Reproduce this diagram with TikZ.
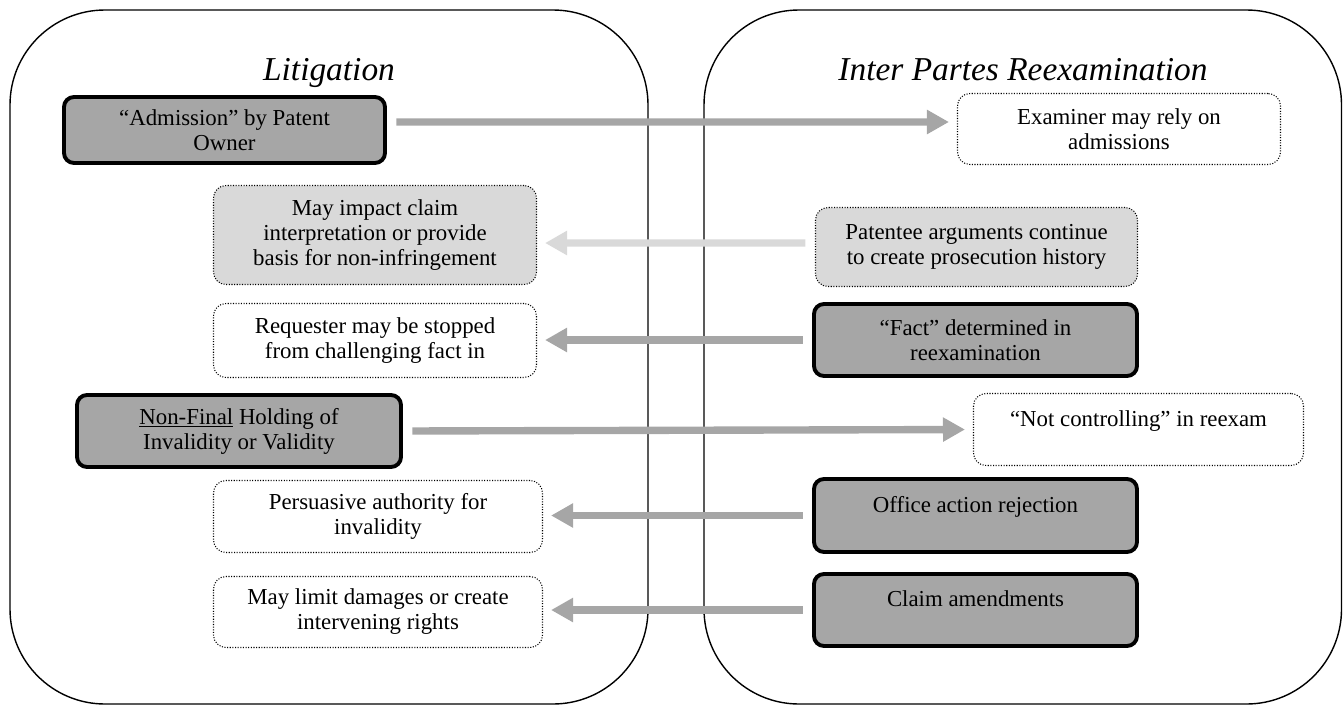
\documentclass[tikz,border=0pt]{standalone}
\usepackage{fontspec}
\setmainfont{Liberation Serif}
\usetikzlibrary{arrows.meta}
\definecolor{heldgray}{HTML}{A6A6A6}
\definecolor{notegray}{HTML}{D9D9D9}
\newcommand{\boxfont}{\fontsize{13pt}{14.2pt}\selectfont}
\newcommand{\headfont}{\fontsize{19pt}{22pt}\selectfont\itshape}

\begin{document}
\begin{tikzpicture}[x=0.2mm,y=-0.2mm,
  panel/.style={draw,line width=0.8pt,rounded corners=19mm},
  heading/.style={font=\headfont,anchor=base},
  held/.style={draw,line width=2.2pt,fill=heldgray,rounded corners=2mm,
    align=center,font=\boxfont,inner sep=0pt},
  note/.style={draw,line width=0.6pt,dash pattern=on 0.6pt off 0.9pt,
    fill=white,rounded corners=2.5mm,align=center,font=\boxfont,inner sep=0pt},
  shade/.style={note,fill=notegray},
  raised/.style={text depth=13pt},
  flow/.style={draw=heldgray,line width=4.2pt,shorten <=1.9mm,shorten >=1.6mm,
    -{Triangle[length=4.4mm,width=4.6mm]}},
  faintflow/.style={flow,draw=notegray}]
\useasboundingbox (0,0) rectangle (1343,708);
% Draw panels
\draw[panel] (10,10) rectangle (648,704);
\draw[panel] (704,10) rectangle (1341.5,704);
\node[heading] (littitle)  at (329,80)  {Litigation};
\node[heading] (reextitle) at (1023,80) {Inter Partes Reexamination};
% Litigation side
\node[held,minimum width=64.2mm,minimum height=13.2mm] (admission) at (224.5,130)
  {“Admission” by Patent\\Owner};
\node[shade,minimum width=64.6mm,minimum height=19.8mm] (impact) at (375,235)
  {May impact claim\\interpretation or provide\\basis for non-infringement};
\node[note,minimum width=64.6mm,minimum height=14.8mm] (requester) at (375,340.5)
  {Requester may be stopped\\from challenging fact in};
\node[held,minimum width=64.8mm,minimum height=14.4mm] (nonfinal) at (239,431)
  {\underline{Non-Final} Holding of\\Invalidity or Validity};
\node[note,minimum width=65.8mm,minimum height=14.4mm] (persuasive) at (378,516.5)
  {Persuasive authority for\\invalidity};
\node[note,minimum width=65.8mm,minimum height=14.2mm] (limit) at (378,612)
  {May limit damages or create\\intervening rights};
% Reexamination side
\node[note,minimum width=64.6mm,minimum height=14.2mm] (examiner) at (1119,129)
  {Examiner may rely on\\admissions};
\node[shade,minimum width=64.4mm,minimum height=15.8mm] (patentee) at (976.5,247)
  {Patentee arguments continue\\to create prosecution history};
\node[held,minimum width=64.6mm,minimum height=14.4mm] (fact) at (975.5,340)
  {“Fact” determined in\\reexamination};
\node[note,raised,minimum width=66mm,minimum height=14.4mm] (notctrl) at (1138.5,429.5)
  {“Not controlling” in reexam};
\node[held,raised,minimum width=64.6mm,minimum height=14.6mm] (office) at (975.5,515.5)
  {Office action rejection};
\node[held,raised,minimum width=64.6mm,minimum height=14.4mm] (claim) at (975.5,610)
  {Claim amendments};
% Arrows
\draw[flow] ([yshift=1.6mm]admission.east) -- ([yshift=1.4mm]examiner.west);
\draw[faintflow] ([yshift=0.8mm]patentee.west) -- ([yshift=-1.6mm]impact.east);
\draw[flow] (fact.west) -- (fact.west -| requester.east);
\draw[flow] (nonfinal.east) -- (notctrl.west);
\draw[flow] (office.west) -- (office.west -| persuasive.east);
\draw[flow] (claim.west) -- (claim.west -| limit.east);
\end{tikzpicture}
\end{document}
